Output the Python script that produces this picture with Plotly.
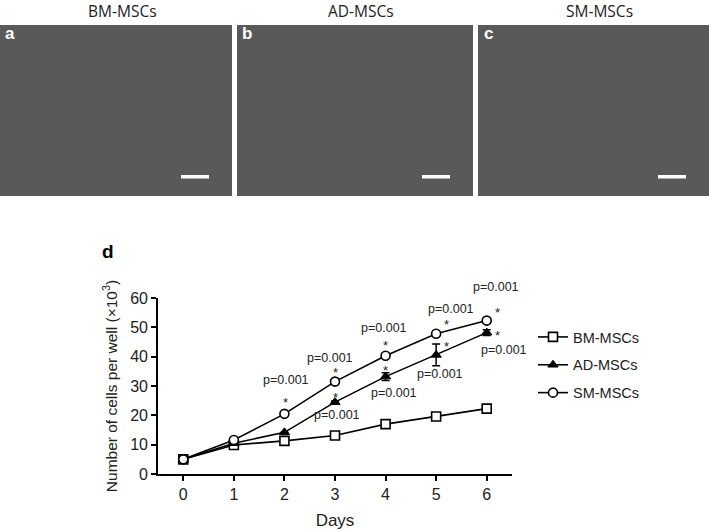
import plotly.graph_objects as go

# data (panel d)
DAYS = [0, 1, 2, 3, 4, 5, 6]
BM_MSC = [5.0, 9.9, 11.3, 13.1, 17.0, 19.6, 22.3]
AD_MSC = [5.0, 10.5, 14.2, 24.5, 33.2, 40.6, 48.2]
AD_ERR = [0, 0, 0, 0.4, 1.3, 3.7, 1.0]
SM_MSC = [5.0, 11.6, 20.5, 31.5, 40.3, 47.8, 52.3]
SM_ERR = [0, 0, 0, 1.0, 0, 0, 0]
SERIES_NAMES = ['BM-MSCs', 'AD-MSCs', 'SM-MSCs']
P_TEXT = 'p=0.001'
STAR = '*'

W, H = 709, 530
# plot area in pixels
L, R, T, B = 158, 512, 298, 474


def px(x):
    return (x - L) / (R - L)


def py(y):
    return (B - y) / (B - T)


FONT = 'Arial, Liberation Sans, sans-serif'

fig = go.Figure()
fig.add_trace(go.Scatter(x=DAYS, y=BM_MSC, name=SERIES_NAMES[0], mode='lines+markers', legendgroup='bm',
                         line=dict(color='black', width=1.6),
                         marker=dict(symbol='square', size=9, color='white', line=dict(color='black', width=1.6))))
fig.add_trace(go.Scatter(x=DAYS, y=AD_MSC, name=SERIES_NAMES[1], mode='lines+markers', legendgroup='ad',
                         line=dict(color='black', width=1.6),
                         error_y=dict(type='data', array=AD_ERR, color='black', thickness=1.5, width=4),
                         marker=dict(symbol='triangle-up', size=9, color='black', line=dict(color='black', width=1))))
fig.add_trace(go.Scatter(x=DAYS, y=SM_MSC, name=SERIES_NAMES[2], mode='lines+markers', legendgroup='sm',
                         line=dict(color='black', width=1.6),
                         error_y=dict(type='data', array=SM_ERR, color='black', thickness=1.5, width=4),
                         marker=dict(symbol='circle', size=9, color='white', line=dict(color='black', width=1.6))))

# p-value and star labels: (series, day index, text, xshift, yshift)
vals = {'sm': SM_MSC, 'ad': AD_MSC}
labels = [
    ('sm', 2, P_TEXT, 2, 34), ('sm', 2, STAR, 1, 11),
    ('sm', 3, P_TEXT, -5, 24), ('sm', 3, STAR, 0, 9),
    ('ad', 3, STAR, 0, 5), ('ad', 3, P_TEXT, 2, -13),
    ('sm', 4, P_TEXT, -2, 28), ('sm', 4, STAR, 0, 10),
    ('ad', 4, STAR, 0, 6), ('ad', 4, P_TEXT, 8, -16),
    ('sm', 5, P_TEXT, 15, 25), ('sm', 5, STAR, 10, 9),
    ('ad', 5, STAR, 10, 8), ('ad', 5, P_TEXT, 4, -19),
    ('sm', 6, P_TEXT, 9, 34), ('sm', 6, STAR, 11, 8),
    ('ad', 6, STAR, 11, -3), ('ad', 6, P_TEXT, 17, -17),
]
annotations = []
for key, i, txt, dx, dy in labels:
    annotations.append(dict(x=DAYS[i], y=vals[key][i], xref='x', yref='y', text=txt, showarrow=False,
                            xshift=dx, yshift=dy, font=dict(family=FONT, size=12.5 if txt == P_TEXT else 13,
                                                            color='#222')))


def paper_note(x, y, text, font):
    return dict(x=px(x), y=py(y), xref='paper', yref='paper', text=text, showarrow=False,
                xanchor='center', yanchor='middle', font=font)


# microscopy panels (a, b, c) drawn as grey tiles with labels and scale bars
panels = [(0, 232, 'a', SERIES_NAMES[0]), (237, 473, 'b', SERIES_NAMES[1]), (478, 709, 'c', SERIES_NAMES[2])]
shapes = []
for x0, x1, letter, title in panels:
    shapes.append(dict(type='rect', xref='paper', yref='paper', x0=px(x0), x1=px(x1), y0=py(196), y1=py(25),
                       fillcolor='#595959', line=dict(width=0), layer='below'))
    shapes.append(dict(type='rect', xref='paper', yref='paper', x0=px(x1 - 51), x1=px(x1 - 23),
                       y0=py(178.5), y1=py(175), fillcolor='white', line=dict(width=0)))
    annotations.append(paper_note(x0 + 10, 33, '<b>%s</b>' % letter, dict(family=FONT, size=17, color='white')))
    annotations.append(paper_note((x0 + x1) / 2 + 6, 11, title,
                                  dict(family='Open Sans, sans-serif', size=15.5, color='#222')))

annotations.append(paper_note(108, 251, '<b>d</b>', dict(family=FONT, size=19, color='black')))

fig.update_xaxes(range=[-0.5, 6.5], tickvals=DAYS, showline=True, linecolor='black', linewidth=1.6,
                 ticks='outside', ticklen=5, tickwidth=1.6, tickcolor='black', showgrid=False, zeroline=False,
                 tickfont=dict(family=FONT, size=16, color='#222'),
                 title=dict(text='Days', font=dict(family=FONT, size=17, color='#222'), standoff=22))
fig.update_yaxes(range=[0, 60], dtick=10, showline=True, linecolor='black', linewidth=1.6,
                 ticks='outside', ticklen=5, tickwidth=1.6, tickcolor='black', showgrid=False, zeroline=False,
                 tickfont=dict(family=FONT, size=16, color='#222'),
                 title=dict(text='Number of cells per well (×10<sup>3</sup>)',
                            font=dict(family=FONT, size=15.5, color='#222'), standoff=9))

fig.update_layout(width=W, height=H, margin=dict(l=L, r=W - R, t=T, b=H - B, autoexpand=False),
                  plot_bgcolor='white', paper_bgcolor='white', shapes=shapes, annotations=annotations,
                  legend=dict(x=px(533), y=py(321), xanchor='left', yanchor='top', tracegroupgap=6,
                              font=dict(family=FONT, size=14.5, color='#222'), bgcolor='rgba(0,0,0,0)'))
# drop the browser's default 8px page margin so the figure sits at the window corner
fig.write_html('out.html', config={'displayModeBar': False},
               post_script="document.body.style.margin = '0';")
